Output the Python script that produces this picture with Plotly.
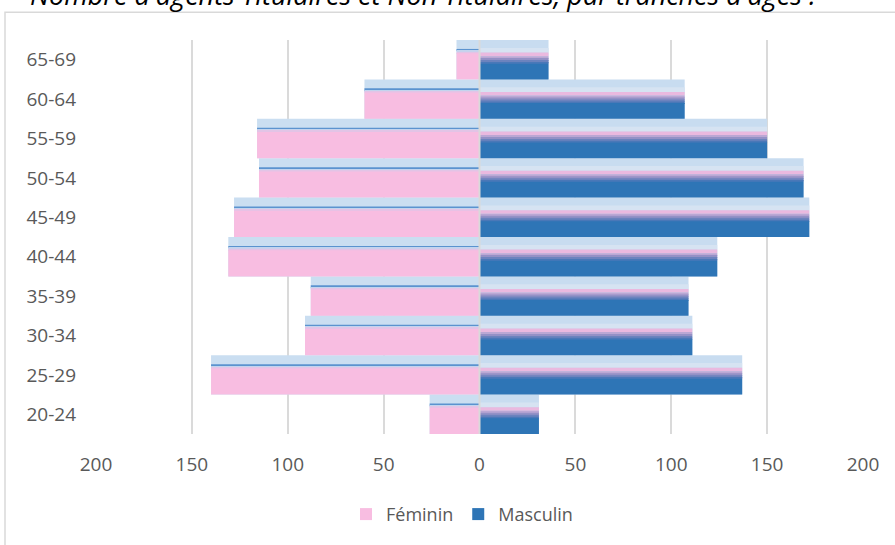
import plotly.graph_objects as go

categories = ["20-24", "25-29", "30-34", "35-39", "40-44", "45-49", "50-54", "55-59", "60-64", "65-69"]
feminin = [26, 140, 91, 88, 131, 128, 115, 116, 60, 12]
masculin = [31, 137, 111, 109, 124, 172, 169, 150, 107, 36]
tick_values = [-200, -150, -100, -50, 0, 50, 100, 150, 200]
tick_labels = ["200", "150", "100", "50", "0", "50", "100", "150", "200"]
title_text = "Nombre d'agents Titulaires et Non Titulaires, par tranches d'âges :"

fem_neg = [-v for v in feminin]

# bands: (fraction from top start, end, colour, in legend)
fem_bands = [
    (0.0, 1.0, "#CADEF1", False),
    (0.227, 0.277, "#5B93CF", False),
    (0.277, 0.30, "#C3D4EE", False),
    (0.30, 0.335, "#E2C4E6", False),
    (0.335, 1.0, "#F8BDE1", True),
]
mas_bands = [
    (0.0, 1.0, "#C8DCF0", False),
    (0.20, 0.32, "#D6E3F2", False),
    (0.32, 0.41, "#EAB9DF", False),
    (0.41, 0.46, "#BBA7D4", False),
    (0.46, 0.51, "#9491C6", False),
    (0.51, 0.56, "#6C83BE", False),
    (0.56, 0.60, "#4A78B8", False),
    (0.60, 1.0, "#2E75B6", True),
]

fig = go.Figure()


def add_band(xvals, f0, f1, color, legend, name):
    fig.add_trace(go.Bar(
        x=xvals, y=categories, orientation="h",
        offset=0.5 - f1, width=f1 - f0,
        marker=dict(color=color, line=dict(width=0)),
        name=name, showlegend=legend, legendgroup=name,
        hoverinfo="skip" if not legend else None,
    ))


for f0, f1, c, lg in fem_bands:
    add_band(fem_neg, f0, f1, c, lg, "Féminin")
for f0, f1, c, lg in mas_bands:
    add_band(masculin, f0, f1, c, lg, "Masculin")

L, T, W, H = 96, 40, 767, 397


def px_x(p):
    return (p - L) / W


def px_y(p):
    return (T + H - p) / H


fig.update_layout(
    width=895, height=545,
    margin=dict(l=L, r=895 - L - W, t=T, b=545 - T - H),
    barmode="overlay",
    plot_bgcolor="white", paper_bgcolor="white",
    font=dict(family="Open Sans", color="#595959", size=19),
    xaxis=dict(range=[-200, 200], tickvals=tick_values, ticktext=tick_labels,
               showgrid=True, gridcolor="#DADADA", gridwidth=2, zeroline=False,
               showline=False, ticks="", automargin=False, ticklabelstandoff=17,
               tickfont=dict(size=19, color="#595959")),
    yaxis=dict(range=[-0.5, 9.5], showgrid=False, zeroline=False, showline=False,
               ticks="", automargin=False, ticklabelstandoff=19,
               tickfont=dict(size=19, color="#595959")),
    legend=dict(orientation="h", x=px_x(462), xanchor="center", y=px_y(518), yanchor="middle",
                font=dict(size=18, color="#595959"), traceorder="normal", itemwidth=30),
    shapes=[
        dict(type="line", xref="x", yref="paper", x0=0, x1=0, y0=0, y1=1,
             line=dict(color="#D9D9D9", width=2), layer="above"),
        dict(type="rect", xref="paper", yref="paper", x0=px_x(5), x1=px_x(905),
             y0=px_y(560), y1=px_y(12), line=dict(color="#D9D9D9", width=1.5), layer="below"),
    ],
    annotations=[
        dict(text="<i>" + title_text + "</i>", xref="paper", yref="paper",
             x=px_x(28), y=px_y(15), xanchor="left", yanchor="bottom", showarrow=False,
             font=dict(family="Open Sans", size=27, color="#000000")),
    ],
)

fig.write_html("out.html", config={"displayModeBar": False},
               post_script="document.body.style.margin='0';")
